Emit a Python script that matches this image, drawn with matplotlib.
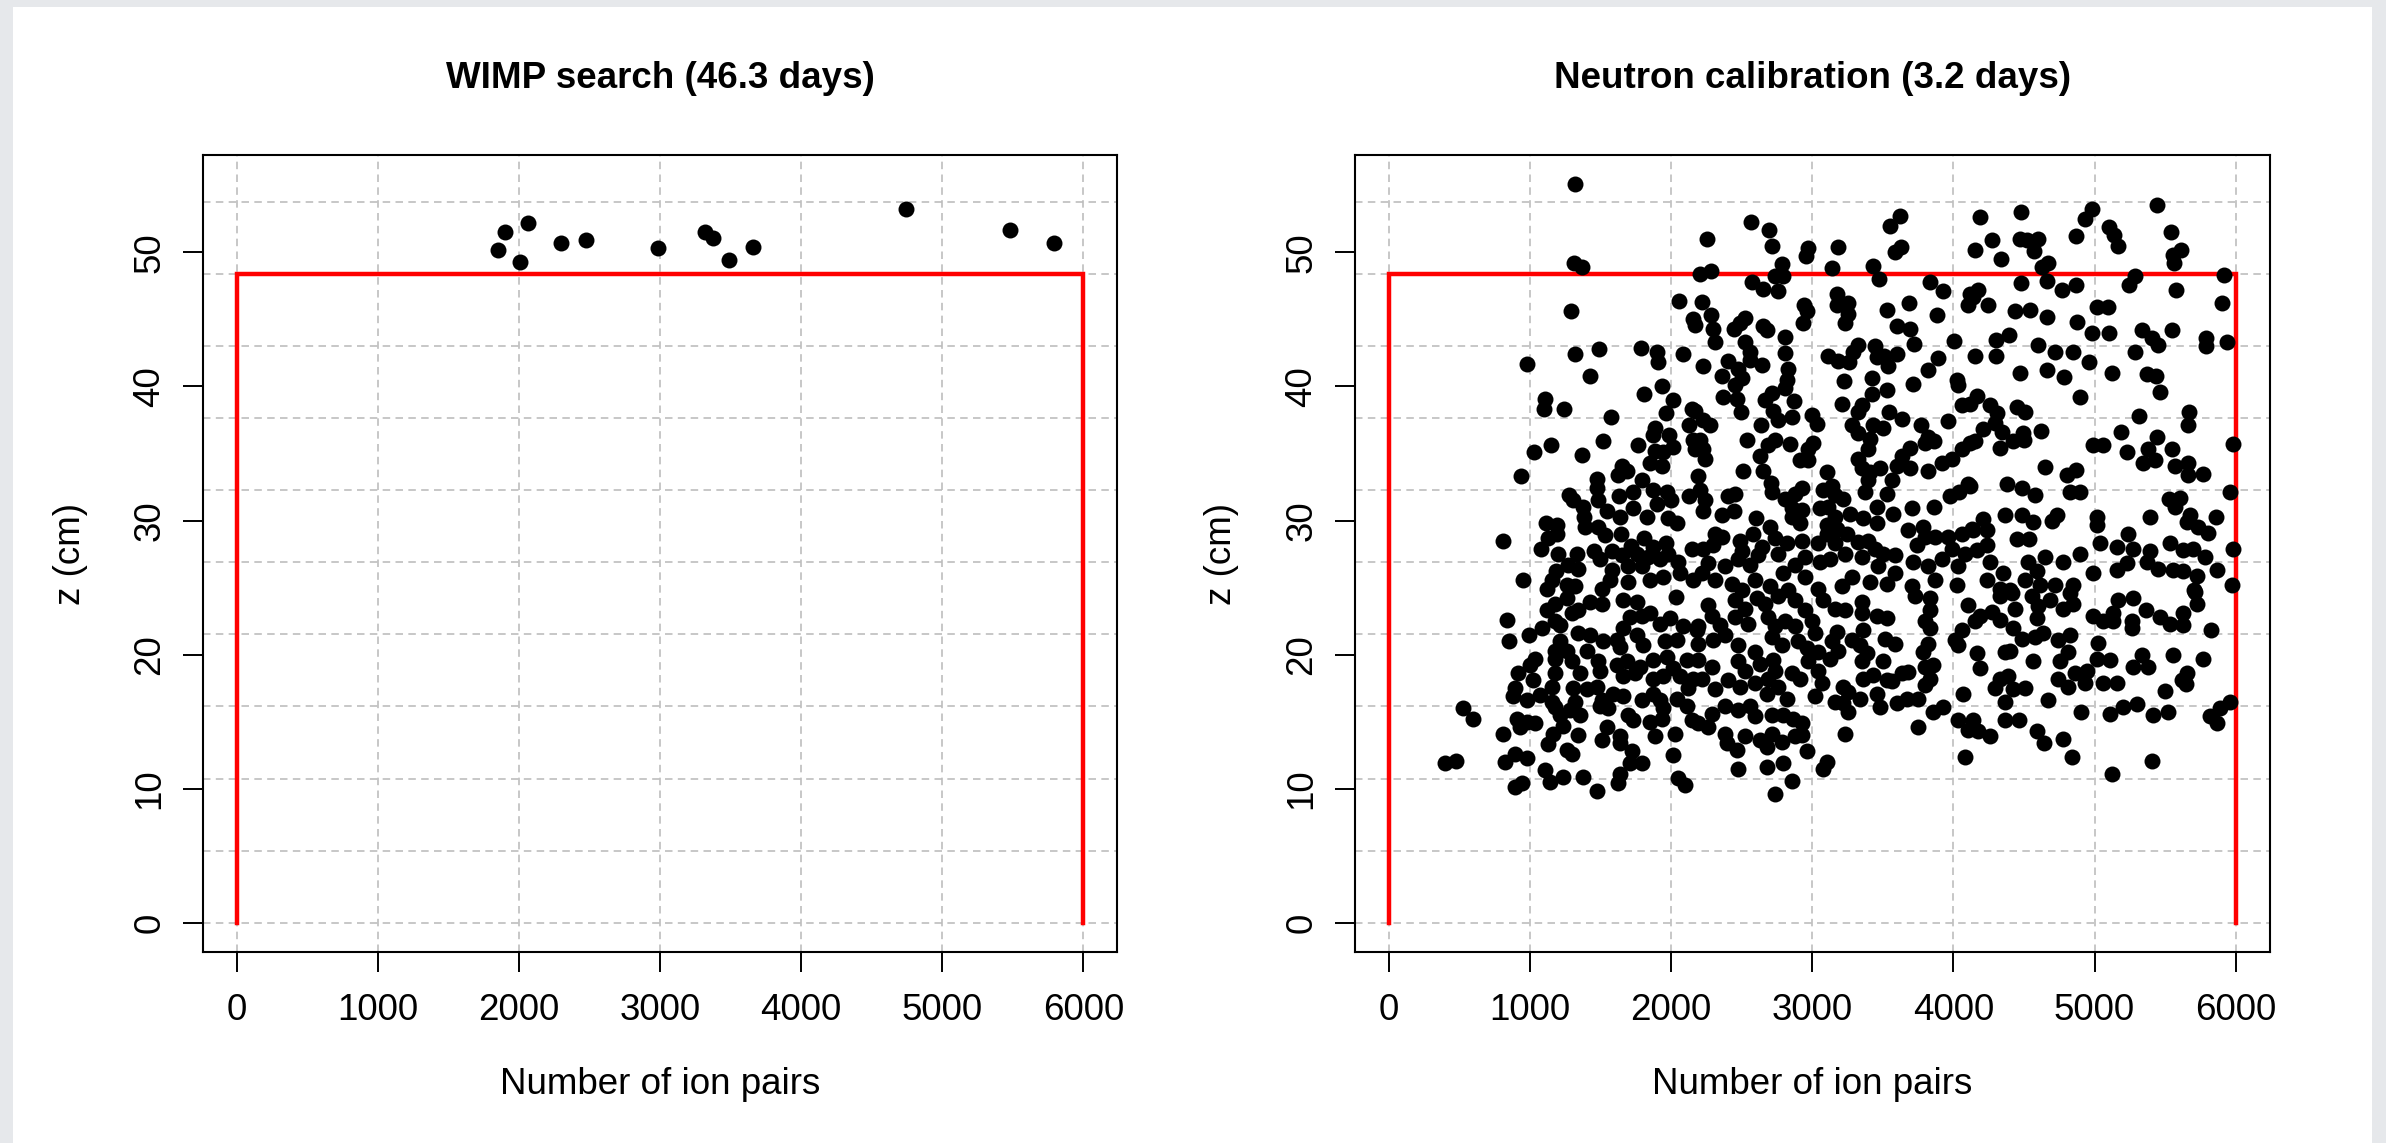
import numpy as np
import matplotlib.pyplot as plt
from matplotlib.patches import Rectangle

plt.rcParams['font.family'] = ['Liberation Sans', 'DejaVu Sans']

# WIMP search: (ion pairs, z in cm)
wimp_x = [1849, 1904, 2067, 2007, 2300, 2473, 2989, 3320, 3374, 3488, 3661, 4741, 5479, 5788]
wimp_z = [50.2, 51.5, 52.2, 49.3, 50.7, 50.9, 50.3, 51.5, 51.1, 49.4, 50.4, 53.2, 51.7, 50.7]

# neutron calibration events (ion pairs, z in cm)
neutron_events = [
    (1320, 55.1), (1313, 49.2), (1371, 48.9), (1291, 45.6), (1320, 42.4), (1492, 42.8), (982, 41.7),
    (1426, 40.8), (1789, 42.9), (1898, 42.6), (1910, 41.8), (2058, 46.4), (2153, 45.0), (2170, 44.6),
    (2087, 42.4),
    (2252, 51.0), (2566, 52.3), (2694, 51.7), (2713, 50.5), (2205, 48.4), (2283, 48.6), (2784, 49.1),
    (2736, 48.2), (2795, 48.2), (2576, 47.8), (2654, 47.3), (2755, 47.1), (2972, 50.3), (2956, 49.7),
    (3180, 50.4), (3142, 48.8), (3433, 49.0), (3475, 48.0), (3551, 52.0), (3622, 52.7), (3586, 50.0),
    (3629, 50.4), (3834, 47.8), (3929, 47.1), (2217, 46.3), (2283, 45.3), (2300, 44.3), (2311, 43.3),
    (2448, 44.3), (2524, 45.1), (2488, 44.7), (2654, 44.5), (2677, 44.2), (2807, 43.7), (2524, 43.3),
    (2559, 42.6), (2559, 42.0), (2642, 41.6), (2401, 41.9), (2472, 41.3), (2500, 40.6), (2359, 40.8),
    (2229, 41.5), (2807, 42.5), (2831, 41.3), (2819, 40.5), (2944, 46.1), (2961, 45.6), (2937, 44.7),
    (3173, 46.9), (3173, 46.1), (3251, 46.2), (3256, 45.4), (3232, 44.7), (3527, 45.7), (3685, 46.2),
    (3603, 44.5), (3693, 44.3), (3721, 43.2), (3881, 45.3), (4007, 43.4), (3114, 42.3), (3185, 41.9),
    (3261, 41.8), (3291, 42.6), (3327, 43.1), (3445, 43.0), (3456, 42.2), (3511, 42.3), (3539, 41.5),
    (3603, 42.4), (3227, 40.4), (3421, 40.6), (3822, 41.2), (3888, 42.1), (4023, 40.5), (4118, 46.9),
    (4101, 46.1),
    (4189, 52.6), (4477, 53.0), (4271, 50.9), (4153, 50.2), (4472, 51.0), (4524, 50.9), (4602, 51.0),
    (4571, 50.1), (4335, 49.5), (4869, 51.2), (4932, 52.5), (4980, 53.2), (5105, 51.9), (5138, 51.3),
    (5168, 50.5), (5440, 53.5), (5541, 51.5), (5610, 50.2), (5558, 49.8), (5563, 49.2), (4625, 48.9),
    (4673, 49.2), (4477, 47.7), (4666, 47.9), (4767, 47.2), (4869, 47.6), (4177, 47.2), (4141, 46.7),
    (4248, 46.1), (4437, 45.6), (4543, 45.7), (4666, 45.2), (4878, 44.8), (4980, 44.0), (5015, 45.9),
    (5098, 45.9), (5105, 44.0), (5246, 47.6), (5286, 48.2), (5577, 47.2), (5917, 48.3), (5905, 46.2),
    (5334, 44.2), (5405, 43.6), (5452, 43.1), (5546, 44.2), (5789, 43.6), (5789, 43.0), (5936, 43.3),
    (4302, 43.5), (4396, 43.8), (4153, 42.3), (4302, 42.3), (4602, 43.1), (4720, 42.6), (4845, 42.6),
    (4963, 41.8), (5287, 42.6), (4472, 41.0), (4666, 41.2), (4784, 40.7), (5121, 41.0), (5369, 40.9),
    (5433, 40.8),
    (1107, 39.1), (1100, 38.3), (1244, 38.3), (1575, 37.7), (1811, 39.4), (1934, 40.0), (2016, 39.0),
    (1962, 38.0), (2146, 38.3), (2129, 37.1), (1886, 36.9), (1870, 36.4), (1988, 36.4), (2011, 35.5),
    (1768, 35.6), (1886, 35.2), (1945, 35.1), (1851, 34.3), (1934, 34.1), (2158, 36.0), (2169, 35.3),
    (1150, 35.6), (1032, 35.1), (1372, 34.9), (1520, 35.9), (935, 33.3), (1650, 34.1), (1686, 33.7),
    (1622, 33.4), (1473, 33.1), (1473, 32.4), (1792, 33.0), (1279, 31.9), (1308, 31.5), (1374, 31.0),
    (1485, 31.5), (1544, 30.7), (1634, 31.8), (1733, 32.1), (1733, 30.9), (1874, 32.3), (1969, 32.1),
    (1898, 31.2), (1997, 31.5), (2129, 31.8), (1832, 30.3), (1981, 30.2), (2044, 29.8), (1383, 30.3),
    (1390, 29.5), (1485, 29.5), (1532, 28.9), (1638, 30.3), (1646, 29.0), (1114, 29.8), (1194, 29.7),
    (1190, 29.0), (1126, 28.7), (1076, 27.9), (1202, 27.5), (812, 28.5), (1336, 27.5), (1454, 27.7),
    (1497, 27.1), (1579, 27.7), (1650, 27.4), (1714, 28.1), (1808, 28.7), (1874, 28.0), (1962, 28.3),
    (1981, 27.5), (2146, 27.9), (1756, 27.5), (1839, 27.3), (1921, 27.1), (1697, 26.6), (1792, 26.6),
    (1579, 26.3), (1568, 25.6), (1272, 26.7), (1343, 26.4), (1185, 26.2), (1154, 25.6), (1119, 24.9),
    (1260, 25.2), (1320, 25.1), (954, 25.6), (1508, 24.9), (1697, 25.4), (1851, 25.6), (1945, 25.8),
    (2052, 26.9), (2063, 26.1), (2158, 25.6),
    (2370, 39.2), (2453, 40.1), (2465, 39.1), (2665, 39.0), (2713, 39.5), (2725, 38.2), (2760, 37.5),
    (2807, 39.9), (2873, 38.9), (2854, 37.7), (2996, 37.9), (3031, 37.2), (2496, 38.1), (3209, 38.7),
    (3350, 38.6), (3327, 38.1), (3421, 39.4), (3527, 39.7), (3546, 38.1), (3633, 37.6), (3716, 40.2),
    (4035, 40.1), (4059, 38.6), (4117, 38.7), (3964, 37.4), (3768, 37.1), (3822, 36.2), (3865, 35.9),
    (3279, 37.1), (3327, 36.5), (3433, 37.1), (3504, 36.9), (3409, 36.1), (3397, 35.3), (3327, 34.6),
    (3350, 33.9), (3409, 33.6), (3397, 33.0), (3480, 33.9), (3374, 32.1), (2170, 38.2), (2229, 37.5),
    (2276, 37.1), (2205, 36.0), (2229, 35.3), (2240, 34.6), (2193, 33.3), (2205, 32.3), (2240, 31.5),
    (2229, 30.7), (2637, 37.1), (2536, 36.0), (2689, 35.6), (2736, 36.0), (2630, 34.8), (2842, 35.7),
    (3008, 35.8), (2972, 35.3), (2913, 34.5), (2972, 34.5), (2507, 33.7), (2654, 33.7), (2708, 32.8),
    (2713, 32.1), (2406, 31.8), (2453, 32.0), (2448, 30.7), (2359, 30.4), (2807, 31.6), (2878, 32.0),
    (2925, 32.4), (2854, 30.9), (2925, 30.8), (2854, 30.3), (2913, 29.8), (3102, 33.6), (3079, 32.3),
    (3138, 32.6), (3161, 31.9), (3220, 31.6), (3055, 30.9), (3114, 31.0), (3161, 30.3), (3102, 29.7),
    (3268, 30.5), (3362, 30.2), (3456, 31.0), (3456, 29.8), (3574, 30.5), (3527, 32.0), (3563, 33.0),
    (3598, 34.1), (3633, 34.8), (3693, 35.4), (3693, 33.9), (3799, 35.8), (3822, 33.7), (3917, 34.3),
    (3988, 34.6), (4059, 35.3), (4118, 35.8), (3976, 31.8), (4040, 32.1), (4106, 32.7), (3704, 30.9),
    (3863, 31.0), (2599, 30.2), (2701, 29.5), (2311, 29.0), (2300, 28.2), (2359, 28.8), (2229, 27.9),
    (2488, 28.5), (2500, 27.7), (2583, 29.0), (2642, 28.0), (2736, 28.7), (2819, 28.3), (2760, 27.5),
    (2618, 27.4), (2925, 28.5), (2949, 27.3), (2878, 26.7), (3043, 28.3), (3102, 29.0), (3173, 29.4),
    (3244, 29.0), (3161, 28.3), (3232, 27.5), (3126, 27.1), (3055, 26.9), (3327, 28.4), (3397, 28.5),
    (3445, 27.9), (3350, 27.3), (3504, 27.5), (3586, 27.4), (3681, 29.3), (3787, 29.5), (3799, 28.8),
    (3740, 28.2), (3870, 28.8), (3964, 28.8), (4059, 29.0), (4129, 29.4), (3988, 27.9), (4082, 27.5),
    (3716, 26.9), (3822, 26.6), (3917, 27.1), (3870, 25.6), (4035, 26.6), (4023, 25.2), (3586, 26.1),
    (3468, 26.6), (3527, 25.3), (3279, 25.8), (3409, 25.4), (3209, 25.1), (3043, 24.9), (2949, 25.8),
    (2795, 26.1), (2701, 25.1), (2831, 24.8), (2559, 26.7), (2595, 25.6), (2477, 27.1), (2382, 26.6),
    (2264, 26.8), (2217, 26.1), (2311, 25.6), (2429, 25.3), (2500, 24.8), (3704, 25.1),
    (5464, 39.6), (4165, 39.3), (4259, 38.6), (4307, 38.0), (4448, 38.5), (4507, 38.1), (4897, 39.2),
    (4212, 36.8), (4295, 37.3), (4342, 36.6), (4153, 35.9), (4330, 35.4), (4425, 35.9), (4491, 36.5),
    (4503, 36.0), (4618, 36.7), (4649, 34.0), (4803, 33.4), (4869, 33.8), (4826, 32.1), (4897, 32.1),
    (4378, 32.7), (4484, 32.4), (4578, 31.9), (4118, 32.6), (4987, 35.6), (5062, 35.6), (5185, 36.6),
    (5228, 35.1), (5317, 37.8), (5440, 36.2), (5381, 35.3), (5428, 34.5), (5346, 34.3), (5546, 35.3),
    (5570, 34.1), (5664, 34.3), (5664, 33.4), (5766, 33.5), (5669, 38.1), (5660, 37.1), (5978, 35.7),
    (5959, 32.1), (5530, 31.6), (5605, 31.7), (5570, 31.0), (5393, 30.3), (5676, 30.4), (5653, 29.9),
    (5735, 29.5), (5806, 29.1), (5858, 30.3), (4212, 30.1), (4141, 29.3), (4236, 29.3), (4366, 30.4),
    (4484, 30.4), (4566, 29.9), (4696, 30.0), (4736, 30.4), (4448, 28.6), (4538, 28.6), (5015, 30.3),
    (5015, 29.7), (5039, 28.3), (5157, 28.0), (5239, 29.0), (5275, 27.9), (5534, 28.3), (5629, 27.8),
    (5700, 27.9), (5782, 27.3), (5983, 27.9), (5393, 27.7), (5369, 26.9), (4165, 27.8), (4236, 28.2),
    (4259, 26.9), (4531, 26.9), (4649, 27.3), (4774, 26.9), (4897, 27.5), (4590, 26.2), (4507, 25.6),
    (4354, 26.1), (4236, 25.6), (4330, 24.9), (4401, 24.8), (4614, 25.2), (4720, 25.2), (4850, 25.2),
    (4991, 26.1), (5157, 26.3), (5228, 26.8), (5452, 26.4), (5558, 26.3), (5629, 26.2), (5724, 25.9),
    (5870, 26.3), (5971, 25.2), (5704, 24.8),
    (836, 22.6), (854, 21.0), (996, 21.5), (1084, 22.0), (1119, 23.3), (1178, 23.8), (1261, 24.2),
    (1296, 23.1), (1343, 23.3), (1426, 23.9), (1508, 23.8), (1213, 22.2), (1178, 22.5), (1662, 24.1),
    (1756, 23.9), (1709, 22.8), (1792, 22.9), (1851, 23.1), (2035, 24.3), (1922, 22.3), (1992, 22.7),
    (2087, 22.1), (2181, 21.8), (1343, 21.6), (1426, 21.5), (1520, 21.0), (1615, 21.1), (1662, 22.0),
    (1638, 20.6), (1756, 21.5), (1803, 20.7), (1957, 21.0), (2040, 21.1), (1213, 21.0), (1178, 20.3),
    (1261, 20.3), (1036, 19.7), (1001, 19.2), (918, 18.6), (1024, 18.1), (1178, 19.7), (1296, 19.5),
    (1402, 20.3), (1485, 19.5), (1178, 18.6), (1355, 18.6), (1497, 18.8), (1615, 19.2), (1686, 19.5),
    (1780, 19.1), (1874, 19.6), (1969, 19.8), (2016, 19.0), (2110, 19.6), (1662, 18.4), (1744, 18.6),
    (1874, 18.2), (1945, 18.4), (2063, 18.4), (2158, 18.2), (2122, 17.5), (895, 17.5), (883, 16.9),
    (977, 16.6), (1072, 17.0), (1154, 17.6), (1154, 16.5), (1178, 16.1), (1308, 17.5), (1402, 17.4),
    (1473, 17.6), (1508, 16.6), (1591, 17.1), (1662, 16.9), (1320, 16.5), (1284, 15.9), (1355, 15.5),
    (1213, 15.5), (1237, 14.7), (1497, 16.2), (1556, 16.0), (1792, 16.6), (1874, 17.1), (1921, 16.6),
    (2040, 16.7), (1945, 16.0), (2110, 16.2), (529, 16.0), (599, 15.2), (906, 15.2), (977, 15.0),
    (1036, 14.9), (930, 14.6), (812, 14.1), (1697, 15.5), (1733, 15.1), (1851, 15.0), (1933, 15.2),
    (2146, 15.1), (1166, 14.1), (1343, 14.0), (1544, 14.6), (1508, 13.6), (1638, 13.9), (1638, 13.4),
    (1886, 13.9), (2028, 14.1), (1131, 13.3), (1261, 12.9), (1296, 12.6), (1721, 12.8), (2016, 12.5),
    (399, 11.9), (477, 12.1), (824, 12.0), (895, 12.6), (977, 12.3), (1107, 11.4), (1142, 10.5),
    (1237, 10.9), (1379, 10.9), (1473, 9.8), (1638, 11.1), (1627, 10.4), (1709, 11.9), (1792, 11.9),
    (895, 10.1), (942, 10.4), (2052, 10.8), (2099, 10.3),
    (2264, 23.7), (2288, 22.9), (2453, 24.1), (2524, 23.4), (2606, 24.2), (2665, 23.8), (2760, 24.4),
    (2878, 24.1), (2949, 23.3), (3079, 24.1), (3161, 23.4), (3232, 23.3), (3350, 23.9), (3350, 23.1),
    (3456, 22.9), (3527, 22.7), (3728, 24.4), (3834, 24.2), (3834, 23.3), (3799, 22.5), (3834, 22.0),
    (4106, 23.7), (2193, 22.1), (2347, 22.2), (2453, 22.8), (2547, 22.3), (2689, 22.8), (2736, 22.1),
    (2807, 22.5), (2878, 22.1), (2996, 22.5), (3020, 21.6), (2193, 20.8), (2300, 21.1), (2382, 21.5),
    (2477, 20.7), (2595, 20.2), (2713, 21.3), (2784, 20.7), (2902, 21.0), (2961, 20.5), (3043, 20.2),
    (3173, 21.7), (3138, 21.0), (3185, 20.3), (3279, 21.1), (3338, 20.7), (3362, 21.8), (3516, 21.2),
    (3586, 20.8), (3386, 20.1), (3126, 19.7), (3350, 19.5), (3504, 19.5), (3787, 20.2), (3822, 20.8),
    (4011, 21.1), (4059, 21.8), (4035, 20.7), (2193, 19.6), (2288, 19.1), (2477, 19.5), (2524, 18.8),
    (2630, 19.3), (2725, 19.6), (2736, 18.8), (2854, 18.6), (2913, 18.2), (2972, 19.5), (3043, 18.8),
    (2217, 18.2), (2406, 18.1), (2311, 17.4), (2488, 17.6), (2595, 17.9), (2689, 18.2), (2760, 17.6),
    (2677, 17.1), (2819, 16.7), (3067, 17.9), (3020, 16.9), (3362, 18.2), (3433, 18.5), (3527, 18.1),
    (3633, 18.6), (3681, 18.7), (3456, 17.1), (3563, 18.0), (3799, 19.1), (3858, 19.2), (3834, 18.2),
    (3799, 17.7), (4070, 17.1), (3220, 17.6), (3256, 17.2), (3338, 16.7), (3161, 16.5), (3220, 16.4),
    (3256, 15.7), (3480, 16.1), (3598, 16.4), (3669, 16.7), (3751, 16.7), (3858, 15.7), (3929, 16.1),
    (2193, 14.9), (2288, 15.6), (2382, 16.2), (2477, 15.9), (2559, 16.2), (2595, 15.4), (2264, 14.6),
    (2382, 14.1), (2394, 13.4), (2465, 12.9), (2524, 13.9), (2713, 15.5), (2795, 15.5), (2866, 15.2),
    (2925, 14.9), (2630, 13.6), (2677, 13.1), (2713, 14.1), (2784, 13.5), (2878, 13.9), (2925, 14.0),
    (2961, 12.8), (2477, 11.5), (2677, 11.6), (2795, 11.9), (2854, 10.6), (2736, 9.6), (3079, 11.5),
    (3102, 12.0), (3232, 14.1), (3751, 14.6), (4035, 15.1), (4106, 14.4), (4082, 12.4),
    (4330, 24.4), (4413, 24.6), (4555, 24.4), (4684, 24.1), (4779, 23.4), (4850, 23.8), (4826, 24.6),
    (4189, 22.9), (4271, 23.2), (4330, 22.6), (4437, 23.4), (4602, 23.6), (4590, 22.7), (4153, 22.5),
    (4425, 22.0), (4484, 21.2), (4578, 21.3), (4637, 21.6), (4743, 21.1), (4826, 21.5), (4991, 22.9),
    (5062, 22.5), (5133, 23.1), (5133, 22.5), (5168, 24.1), (5270, 24.2), (5263, 22.5), (5263, 22.0),
    (5364, 23.3), (5464, 22.8), (5535, 22.3), (5629, 23.1), (5629, 22.2), (5723, 23.8), (5711, 24.7),
    (5822, 21.8), (4165, 20.1), (4189, 19.0), (4366, 20.2), (4401, 20.3), (4562, 19.5), (4755, 19.5),
    (4814, 20.2), (5027, 20.9), (5020, 19.7), (5109, 19.6), (4944, 18.8), (4861, 18.6), (4743, 18.2),
    (4814, 17.6), (4932, 17.9), (5062, 17.9), (5157, 17.9), (4330, 18.2), (4389, 18.4), (4295, 17.5),
    (4425, 17.4), (4507, 17.5), (4366, 16.5), (4673, 16.6), (5275, 19.1), (5334, 20.0), (5381, 19.1),
    (5553, 20.0), (5653, 18.6), (5617, 18.1), (5648, 17.8), (5770, 19.7), (5499, 17.3), (5303, 16.3),
    (5204, 16.1), (5109, 15.6), (4902, 15.7), (5416, 15.5), (5518, 15.7), (5818, 15.4), (5889, 16.0),
    (5959, 16.5), (5865, 14.9), (4141, 15.1), (4177, 14.3), (4259, 13.9), (4366, 15.1), (4467, 15.1),
    (4590, 14.3), (4642, 13.4), (4774, 13.7), (4842, 12.4), (5405, 12.1), (5121, 11.1),
]
neutron_x = [p[0] for p in neutron_events]
neutron_z = [p[1] for p in neutron_events]

titles = ["WIMP search (46.3 days)", "Neutron calibration (3.2 days)"]

# fiducial cut and grid
cut_x = [0, 6000]
cut_z = 48.4
xticks = [0, 1000, 2000, 3000, 4000, 5000, 6000]
yticks = [0, 10, 20, 30, 40, 50]
ygrid = [i * cut_z / 9 for i in range(11)]

W, H = 2386, 1143
fig = plt.figure(figsize=(W / 100, H / 100), dpi=100, facecolor='#e6e8eb')
fig.patches.append(Rectangle((13 / W, 0), (2372 - 13) / W, (H - 7) / H,
                             transform=fig.transFigure, facecolor='white',
                             edgecolor='none', zorder=-1))

fs = 26.5
ax_l = fig.add_axes([202.8 / W, 1 - 952.3 / H, 914.5 / W, 797.3 / H])
ax_r = fig.add_axes([1354.8 / W, 1 - 952.3 / H, 914.8 / W, 797.3 / H])

for ax, xs, zs, title in [(ax_l, wimp_x, wimp_z, titles[0]),
                          (ax_r, neutron_x, neutron_z, titles[1])]:
    ax.set_xlim(-240, 6240)
    ax.set_ylim(-2.2, 57.26)
    for gx in xticks:
        ax.axvline(gx, color='#bdbdbd', lw=1.2, dashes=(4.5, 3.2), zorder=1)
    for gy in ygrid:
        ax.axhline(gy, color='#bdbdbd', lw=1.2, dashes=(4.5, 3.2), zorder=1)
    ax.plot([cut_x[0], cut_x[0], cut_x[1], cut_x[1]], [0, cut_z, cut_z, 0],
            color='red', lw=3.2, zorder=2, solid_joinstyle='miter')
    ax.plot(xs, zs, 'o', color='black', ms=11.5, mec='black', mew=0, zorder=3)
    ax.set_xticks(xticks)
    ax.set_yticks(yticks)
    ax.tick_params(axis='both', labelsize=fs, length=14.5, width=1.4, color='black')
    ax.tick_params(axis='x', pad=15)
    ax.tick_params(axis='y', pad=11)
    for lab in ax.get_yticklabels():
        lab.set_rotation(90)
        lab.set_va('center')
    for sp in ax.spines.values():
        sp.set_linewidth(1.5)
    ax.set_xlabel("Number of ion pairs", fontsize=fs, va='center')
    ax.xaxis.set_label_coords(0.5, (952.3 - 1085) / 797.3)
    ax.set_ylabel("z (cm)", fontsize=fs, va='center')
    ax.yaxis.set_label_coords((70 - 202.8) / 914.5, 0.5)
    ax.text(0.5, 1 + (155 - 78) / 797.3, title, transform=ax.transAxes,
            ha='center', va='center', fontsize=fs, fontweight='bold')

fig.savefig('out.png', dpi=100, facecolor=fig.get_facecolor())
